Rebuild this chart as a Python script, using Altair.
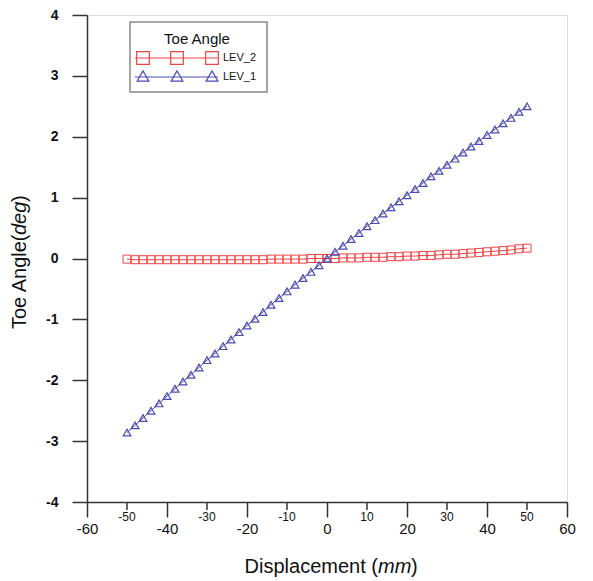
import altair as alt
import pandas as pd

# ---------------- data ----------------
displacement = [-50, -48, -46, -44, -42, -40, -38, -36, -34, -32, -30, -28, -26,
                -24, -22, -20, -18, -16, -14, -12, -10, -8, -6, -4, -2, 0,
                2, 4, 6, 8, 10, 12, 14, 16, 18, 20, 22, 24, 26, 28, 30, 32, 34,
                36, 38, 40, 42, 44, 46, 48, 50]

lev_1 = [-2.86, -2.74, -2.62, -2.50, -2.38, -2.26, -2.14, -2.02, -1.91, -1.79,
         -1.67, -1.56, -1.44, -1.33, -1.21, -1.10, -0.99, -0.88, -0.76, -0.65,
         -0.54, -0.43, -0.32, -0.22, -0.11, 0.00,
         0.11, 0.21, 0.32, 0.42, 0.53, 0.63, 0.74, 0.84, 0.94, 1.04, 1.14, 1.24,
         1.35, 1.44, 1.54, 1.64, 1.74, 1.84, 1.93, 2.03, 2.12, 2.22, 2.31, 2.41,
         2.50]

lev_2 = [-0.01, -0.02, -0.02, -0.02, -0.02, -0.02, -0.02, -0.02, -0.02, -0.02,
         -0.02, -0.02, -0.02, -0.02, -0.02, -0.02, -0.02, -0.02, -0.01, -0.01,
         -0.01, -0.01, -0.01, 0.00, 0.00, 0.00,
         0.00, 0.01, 0.01, 0.01, 0.02, 0.02, 0.02, 0.03, 0.03, 0.04, 0.04, 0.05,
         0.05, 0.06, 0.07, 0.07, 0.08, 0.09, 0.10, 0.11, 0.12, 0.13, 0.14, 0.16,
         0.17]

x_major_ticks = [-60, -40, -20, 0, 20, 40, 60]
x_minor_ticks = [-50, -30, -10, 10, 30, 50]
y_ticks = [-4, -3, -2, -1, 0, 1, 2, 3, 4]
series_names = ["LEV_2", "LEV_1"]
legend_title = "Toe Angle"

# ---------------- styling ----------------
RED = "#ee4444"
BLUE = "#4a4ab6"
AXC = "#333333"
TXT = "#111111"
FONT = "Liberation Sans"

df1 = pd.DataFrame({"x": displacement, "y": lev_1})
df2 = pd.DataFrame({"x": displacement, "y": lev_2})
dminor = pd.DataFrame({"x": x_minor_ticks,
                       "label": [str(v) for v in x_minor_ticks]})
one = pd.DataFrame({"k": [0]})

xs = alt.Scale(domain=[-60, 60], nice=False, zero=False)
ys = alt.Scale(domain=[-4, 4], nice=False, zero=False)

x_axis = alt.Axis(
    values=x_major_ticks, title=None, grid=False, labelAngle=0,
    labelExpr="datum.value + ''",
    labelFont=FONT, labelColor=TXT, labelFlush=False, labelOverlap=False,
    labelFontSize=15, tickSize=15, labelPadding=4,
    domainColor=AXC, domainWidth=1.5, tickColor=AXC, tickWidth=1.5,
)
y_axis = alt.Axis(
    values=y_ticks, title=None, grid=False, labelFont=FONT, labelFontSize=14,
    labelExpr="datum.value + ''",
    labelFontWeight="bold", labelColor=TXT, labelFlush=False, tickSize=15,
    labelPadding=14, domainColor=AXC, domainWidth=1.5, tickColor=AXC,
    tickWidth=1.5,
)

line2 = alt.Chart(df2).mark_line(color=RED, strokeWidth=1).encode(
    x=alt.X("x:Q", scale=xs, axis=x_axis), y=alt.Y("y:Q", scale=ys, axis=y_axis))
pts2 = alt.Chart(df2).mark_point(shape="square", filled=False, color=RED,
                                 size=64, strokeWidth=1, opacity=1).encode(
    x="x:Q", y="y:Q")
line1 = alt.Chart(df1).mark_line(color=BLUE, strokeWidth=1).encode(
    x="x:Q", y="y:Q")
pts1 = alt.Chart(df1).mark_point(shape="triangle-up", filled=False, color=BLUE,
                                 size=60, strokeWidth=1.2, opacity=1).encode(
    x="x:Q", y="y:Q")

# minor ticks and their smaller labels, placed through the x scale
minor_ticks = alt.Chart(dminor).mark_rule(color=AXC, strokeWidth=1.5).encode(
    x="x:Q", y=alt.value(487), y2=alt.value(495))
minor_labels = alt.Chart(dminor).mark_text(
    font=FONT, fontSize=12, color=TXT, baseline="top", align="center").encode(
    x="x:Q", y=alt.value(497), text="label:N")


def txt(text, x, y, size, style="normal", align="left", angle=0,
        baseline="middle", weight="normal"):
    return alt.Chart(one).mark_text(
        text=text, font=FONT, fontSize=size, fontStyle=style, align=align,
        baseline=baseline, angle=angle, color=TXT, fontWeight=weight,
    ).encode(x=alt.value(x), y=alt.value(y))


def marker(shape, color, x, y, size):
    return alt.Chart(one).mark_point(shape=shape, filled=False, color=color,
                                     size=size, strokeWidth=1.2, opacity=1).encode(
        x=alt.value(x), y=alt.value(y))


def hline(color, x1, x2, y):
    return alt.Chart(one).mark_rule(color=color, strokeWidth=1).encode(
        x=alt.value(x1), x2=alt.value(x2), y=alt.value(y))


legend_box = alt.Chart(one).mark_rect(fill="white", stroke="#888888",
                                      strokeWidth=1.5).encode(
    x=alt.value(43), x2=alt.value(180), y=alt.value(7), y2=alt.value(77))

legend = [legend_box, txt(legend_title, 110, 24, 15, align="center"),
          hline(RED, 48, 131, 43), hline(BLUE, 48, 131, 62)]
for mx in (56, 90, 125):
    legend.append(marker("square", RED, mx, 43, 160))
    legend.append(marker("triangle-up", BLUE, mx, 61, 140))
legend.append(txt(series_names[0], 136, 43, 11))
legend.append(txt(series_names[1], 136, 62, 11))

titles = [
    txt("Displacement (", 291, 558, 20, align="right", baseline="alphabetic"),
    txt("mm", 291, 558, 20, style="italic", baseline="alphabetic"),
    txt(")", 324, 558, 20, baseline="alphabetic"),
    txt("Toe Angle(", -67, 314, 20, angle=270),
    txt("deg", -67, 220, 20, style="italic", angle=270),
    txt(")", -67, 187, 20, angle=270),
]

chart = alt.layer(line2, pts2, line1, pts1, minor_ticks, minor_labels,
                  *legend, *titles).properties(
    width=480, height=487,
    autosize=alt.AutoSizeParams(type="none"),
    padding={"left": 79, "top": 7, "right": 18, "bottom": 80},
).configure_view(stroke=None).configure(background="white")

chart.save("out.html", embed_options={"renderer": "svg", "actions": False})
